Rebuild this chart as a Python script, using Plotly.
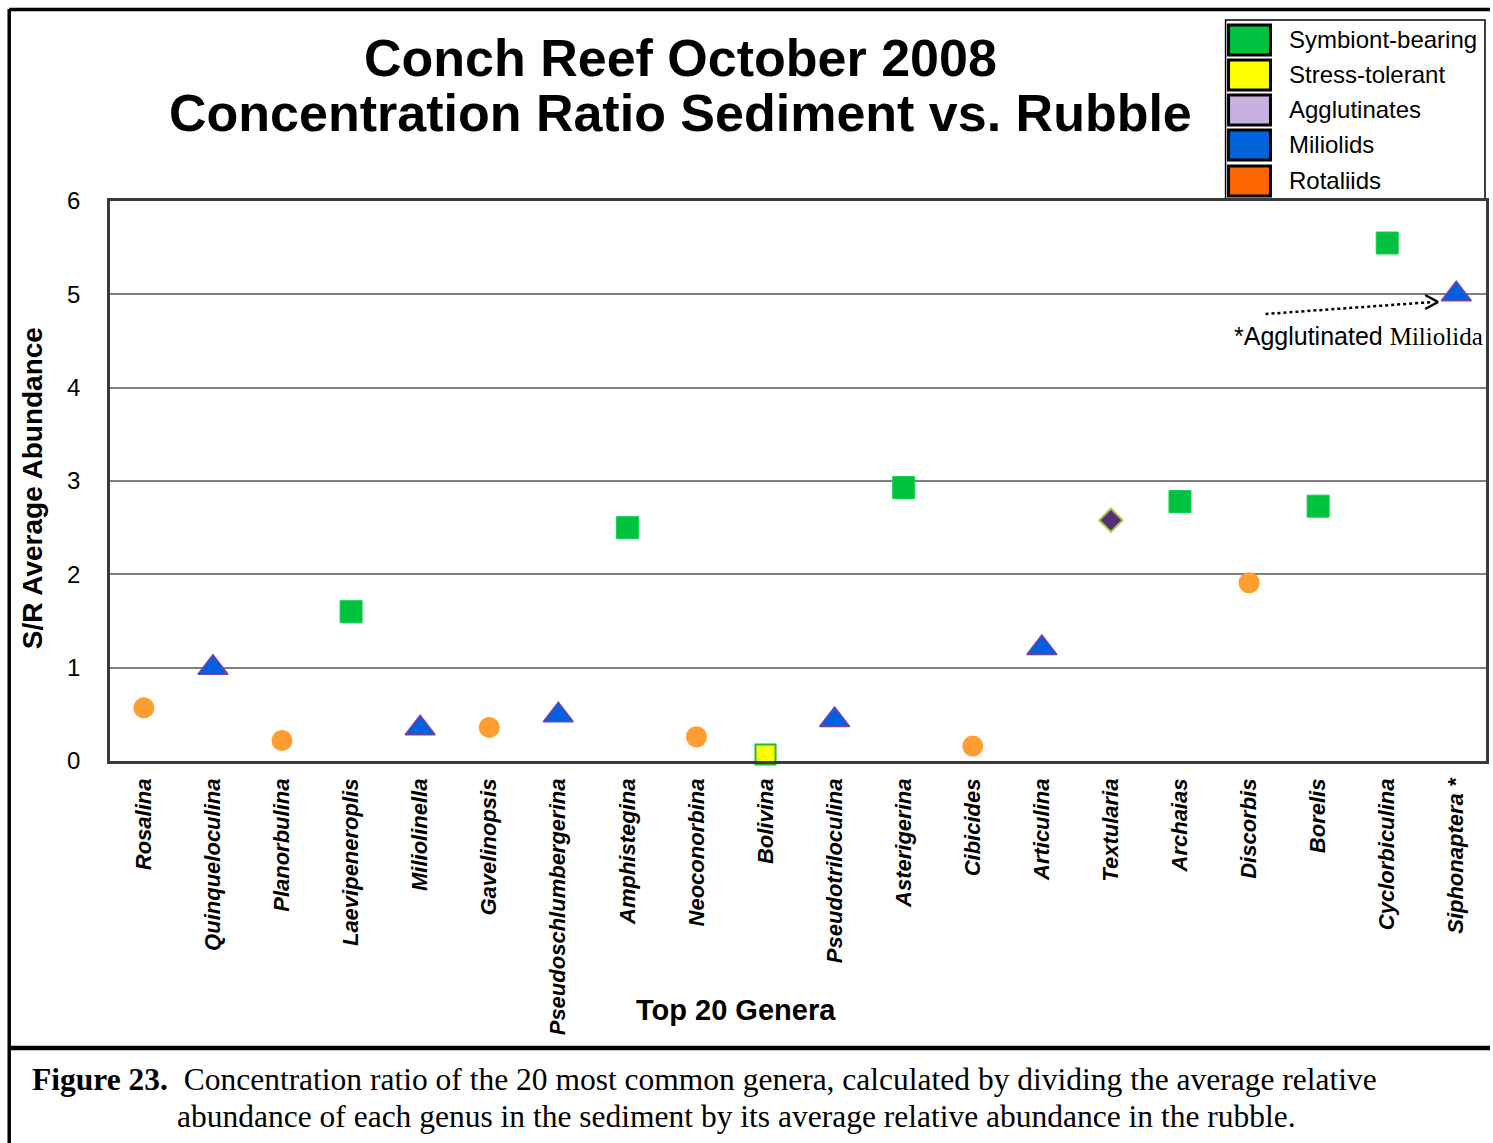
import plotly.graph_objects as go

# Concentration ratio (sediment / rubble) for the 20 most common genera
genera = ["Rosalina", "Quinqueloculina", "Planorbulina", "Laevipeneroplis", "Miliolinella",
          "Gavelinopsis", "Pseudoschlumbergerina", "Amphistegina", "Neoconorbina", "Bolivina",
          "Pseudotriloculina", "Asterigerina", "Cibicides", "Articulina", "Textularia",
          "Archaias", "Discorbis", "Borelis", "Cyclorbiculina", "Siphonaptera"]
tick_labels = genera[:-1] + ["Siphonaptera *"]
ratios = [0.57, 1.0, 0.22, 1.6, 0.35,
          0.36, 0.49, 2.5, 0.26, 0.07,
          0.44, 2.93, 0.16, 1.21, 2.58,
          2.78, 1.91, 2.73, 5.55, 5.0]
groups = ["Rotaliids", "Miliolids", "Rotaliids", "Symbiont-bearing", "Miliolids",
          "Rotaliids", "Miliolids", "Symbiont-bearing", "Rotaliids", "Stress-tolerant",
          "Miliolids", "Symbiont-bearing", "Rotaliids", "Miliolids", "Agglutinates",
          "Symbiont-bearing", "Rotaliids", "Symbiont-bearing", "Symbiont-bearing", "Miliolids"]

legend_names = ["Symbiont-bearing", "Stress-tolerant", "Agglutinates", "Miliolids", "Rotaliids"]
legend_colors = ["#00C040", "#FFFF00", "#C8B0E0", "#0064DC", "#FF6600"]

marker_styles = {
    "Symbiont-bearing": dict(symbol="square", size=22, color="#00C23F", line=dict(color="#10D050", width=1)),
    "Stress-tolerant": dict(symbol="square", size=20, color="#FFFF00", line=dict(color="#22BB33", width=2)),
    "Agglutinates": dict(symbol="diamond", size=18, color="#55307A", line=dict(color="#A0D040", width=2)),
    "Miliolids": dict(symbol="triangle-up", size=26, color="#0060E0", line=dict(color="#7A40A8", width=1.5)),
    "Rotaliids": dict(symbol="circle", size=21, color="#FF9E30", line=dict(color="#FF9E30", width=0)),
}

W, H = 1493, 1143
L, R, T, B = 110, 1489, 201, 761


def px(x):
    return (x - L) / (R - L)


def py(y):
    return (B - y) / (B - T)


fig = go.Figure()
for g in legend_names:
    xs = [genera[i] for i in range(len(genera)) if groups[i] == g]
    ys = [ratios[i] for i in range(len(genera)) if groups[i] == g]
    fig.add_trace(go.Scatter(x=xs, y=ys, mode="markers", name=g,
                             marker=marker_styles[g], showlegend=False, cliponaxis=False))

shapes = []
annotations = []

# outer frame and caption separator
shapes.append(dict(type="line", xref="paper", yref="paper", x0=px(9), x1=px(9), y0=py(9), y1=py(H),
                   line=dict(color="black", width=3.5)))
shapes.append(dict(type="line", xref="paper", yref="paper", x0=px(9), x1=px(W), y0=py(9.5), y1=py(9.5),
                   line=dict(color="black", width=3.5)))
shapes.append(dict(type="line", xref="paper", yref="paper", x0=px(9), x1=px(W), y0=py(1048), y1=py(1048),
                   line=dict(color="black", width=4.5)))

# legend box
shapes.append(dict(type="rect", xref="paper", yref="paper", x0=px(1228), x1=px(1488), y0=py(200), y1=py(20),
                   line=dict(color="black", width=1.5), fillcolor="white", layer="below"))
row_y = [40, 75, 110, 145, 181]
for name, col, yc in zip(legend_names, legend_colors, row_y):
    shapes.append(dict(type="rect", xref="paper", yref="paper", x0=px(1231), x1=px(1273),
                       y0=py(yc + 15), y1=py(yc - 15),
                       line=dict(color="black", width=3), fillcolor=col))
    annotations.append(dict(text=name, xref="paper", yref="paper", x=px(1290), y=py(yc),
                            xanchor="left", yanchor="middle", showarrow=False,
                            font=dict(family="Liberation Sans, Arial", size=24, color="black")))

# title
annotations.append(dict(text="<b>Conch Reef October 2008</b>", xref="paper", yref="paper",
                        x=px(682), y=py(58), xanchor="center", yanchor="middle", showarrow=False,
                        font=dict(family="Liberation Sans, Arial", size=52, color="black")))
annotations.append(dict(text="<b>Concentration Ratio Sediment vs. Rubble</b>", xref="paper", yref="paper",
                        x=px(682), y=py(113), xanchor="center", yanchor="middle", showarrow=False,
                        font=dict(family="Liberation Sans, Arial", size=52, color="black")))

# axis titles
annotations.append(dict(text="<b>S/R Average Abundance</b>", xref="paper", yref="paper",
                        x=px(32), y=py(488), textangle=-90, xanchor="center", yanchor="middle",
                        showarrow=False, font=dict(family="Liberation Sans, Arial", size=28, color="black")))
annotations.append(dict(text="<b>Top 20 Genera</b>", xref="paper", yref="paper",
                        x=px(737), y=py(1010), xanchor="center", yanchor="middle",
                        showarrow=False, font=dict(family="Liberation Sans, Arial", size=29, color="black")))

# note on Siphonaptera with dotted arrow
annotations.append(dict(
    text='*Agglutinated <span style="font-family:Liberation Serif, Times New Roman">Miliolida</span>',
    xref="paper", yref="paper", x=px(1488), y=py(336), xanchor="right", yanchor="middle",
    showarrow=False, font=dict(family="Liberation Sans, Arial", size=25, color="black")))
shapes.append(dict(type="line", xref="paper", yref="paper", x0=px(1268), y0=py(314), x1=px(1436), y1=py(302),
                   line=dict(color="black", width=2.5, dash="dot")))
shapes.append(dict(type="line", xref="paper", yref="paper", x0=px(1428), y0=py(295), x1=px(1441), y1=py(302),
                   line=dict(color="black", width=2.5)))
shapes.append(dict(type="line", xref="paper", yref="paper", x0=px(1428), y0=py(309), x1=px(1441), y1=py(302),
                   line=dict(color="black", width=2.5)))

# caption
annotations.append(dict(
    text="<b>Figure 23.</b>&nbsp; Concentration ratio of the 20 most common genera, calculated by dividing the average relative",
    xref="paper", yref="paper", x=px(30), y=py(1079), xanchor="left", yanchor="middle", showarrow=False,
    font=dict(family="Liberation Serif, Times New Roman", size=31.5, color="black")))
annotations.append(dict(
    text="abundance of each genus in the sediment by its average relative abundance in the rubble.",
    xref="paper", yref="paper", x=px(175), y=py(1116), xanchor="left", yanchor="middle", showarrow=False,
    font=dict(family="Liberation Serif, Times New Roman", size=31.5, color="black")))

fig.update_layout(
    width=W, height=H,
    margin=dict(l=L, r=W - R, t=T, b=H - B),
    paper_bgcolor="white", plot_bgcolor="white",
    shapes=shapes, annotations=annotations,
    xaxis=dict(type="category", categoryorder="array", categoryarray=genera,
               tickvals=genera, ticktext=tick_labels, tickangle=-90,
               range=[-0.49, 19.43],
               showgrid=False, showline=True, linecolor="#3A3A3A", linewidth=2.5, mirror=True,
               ticks="", ticklabelstandoff=6,
               tickfont=dict(family="Liberation Sans, Arial", size=22, color="black",
                             weight="bold", style="italic")),
    yaxis=dict(range=[0, 6], tickvals=[0, 1, 2, 3, 4, 5, 6], showgrid=True,
               gridcolor="#808080", gridwidth=1.5, zeroline=False,
               showline=True, linecolor="#3A3A3A", linewidth=2.5, mirror=True,
               ticks="", ticklabelstandoff=22,
               tickfont=dict(family="Liberation Sans, Arial", size=24, color="black")),
)

fig.write_html("out.html")
